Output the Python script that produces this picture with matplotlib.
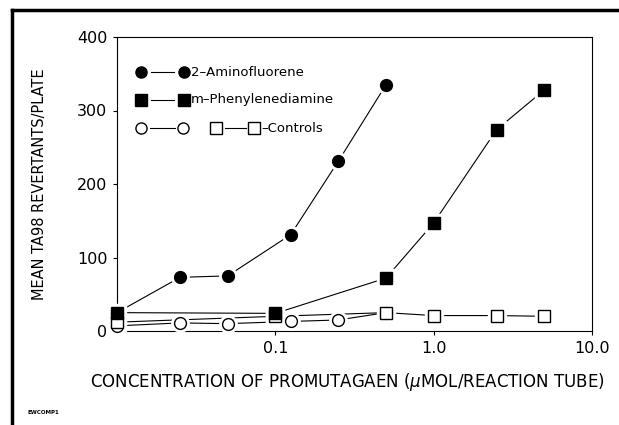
import matplotlib
matplotlib.use("Agg")
import matplotlib.pyplot as plt
from matplotlib.lines import Line2D

# data (concentration in umol/reaction tube, mean revertants/plate)
conc_af = [0.01, 0.025, 0.05, 0.125, 0.25, 0.5]
rev_af = [25, 73, 75, 131, 231, 335]
conc_mpd = [0.01, 0.1, 0.5, 1.0, 2.5, 5.0]
rev_mpd = [25, 24, 72, 147, 274, 328]
conc_ctrl_c = [0.01, 0.025, 0.05, 0.125, 0.25, 0.5]
rev_ctrl_c = [7, 11, 10, 13, 15, 25]
conc_ctrl_s = [0.01, 0.1, 0.5, 1.0, 2.5, 5.0]
rev_ctrl_s = [12, 20, 25, 21, 21, 20]

xticks = [0.1, 1.0, 10.0]
xticklabels = ["0.1", "1.0", "10.0"]
yticks = [0, 100, 200, 300, 400]

plt.rcParams['font.family'] = ['DejaVu Sans']

fig = plt.figure(figsize=(6.19, 4.25), dpi=100)
ax = fig.add_axes([117 / 619, 1 - 331 / 425, 475 / 619, 294 / 425])


def series(x, y, marker, filled):
    ax.plot(x, y, '-', color='k', lw=0.8, zorder=2, clip_on=False)
    # white halo so the line stops short of each marker
    ax.plot(x, y, marker, ms=12.5, mfc='white', mec='white', ls='none', zorder=3, clip_on=False)
    ax.plot(x, y, marker, ms=8.5, mfc='k' if filled else 'white', mec='k', mew=1.0,
            ls='none', zorder=4, clip_on=False)


series(conc_ctrl_c, rev_ctrl_c, 'o', False)
series(conc_ctrl_s, rev_ctrl_s, 's', False)
series(conc_mpd, rev_mpd, 's', True)
series(conc_af, rev_af, 'o', True)

ax.set_xscale('log')
ax.set_xlim(0.01, 10)
ax.set_ylim(0, 400)
ax.set_xticks(xticks)
ax.set_xticklabels(xticklabels)
ax.minorticks_off()
ax.set_yticks(yticks)
ax.tick_params(direction='out', length=3, width=0.8, labelsize=11.5, pad=4)
for s in ax.spines.values():
    s.set_linewidth(0.8)

ax.set_ylabel("MEAN TA98 REVERTANTS/PLATE", fontsize=10.5)
ax.yaxis.set_label_coords(-0.147, 0.5)
ax.set_xlabel("CONCENTRATION OF PROMUTAGAEN ($\\mu$MOL/REACTION TUBE)", fontsize=12)
ax.xaxis.set_label_coords(0.486, -0.173)
ax.xaxis.label.set_va('center')

# hand-drawn style key in the upper left
def key_mark(x, y, marker, filled):
    ax.plot([x], [y], marker, ms=8, mfc='k' if filled else 'white', mec='k', mew=1.0,
            transform=ax.transAxes, clip_on=False)

def key_dash(x0, x1, y):
    ax.plot([x0, x1], [y, y], '-', color='k', lw=0.8, transform=ax.transAxes)

def px(xp):
    return (xp - 117) / 475

def py(yp):
    return (331 - yp) / 294

key_mark(px(141), py(72), 'o', True); key_dash(px(151), px(174), py(72)); key_mark(px(184), py(72), 'o', True)
ax.text(px(191), py(72), "2\u2013Aminofluorene", fontsize=9.5, va='center', transform=ax.transAxes)
key_mark(px(141), py(100), 's', True); key_dash(px(151), px(174), py(100)); key_mark(px(184), py(100), 's', True)
ax.text(px(191), py(100), "m\u2013Phenylenediamine", fontsize=9.5, va='center', transform=ax.transAxes)
key_mark(px(141), py(128), 'o', False); key_dash(px(150), px(175), py(128)); key_mark(px(183), py(128), 'o', False)
key_mark(px(216), py(128), 's', False); key_dash(px(225), px(246), py(128)); key_mark(px(254), py(128), 's', False)
ax.text(px(261), py(128), "\u2013Controls", fontsize=9.5, va='center', transform=ax.transAxes)

# page frame from the scanned document
fig.add_artist(Line2D([12 / 619, 1], [1 - 10 / 425, 1 - 10 / 425], color='k', lw=2.5))
fig.add_artist(Line2D([12 / 619, 12 / 619], [0, 1 - 10 / 425], color='k', lw=2.5))
fig.text(28 / 619, 1 - 412 / 425, "EWCOMP1", fontsize=4, fontweight='bold', va='center')

fig.savefig("out.png", dpi=100)
